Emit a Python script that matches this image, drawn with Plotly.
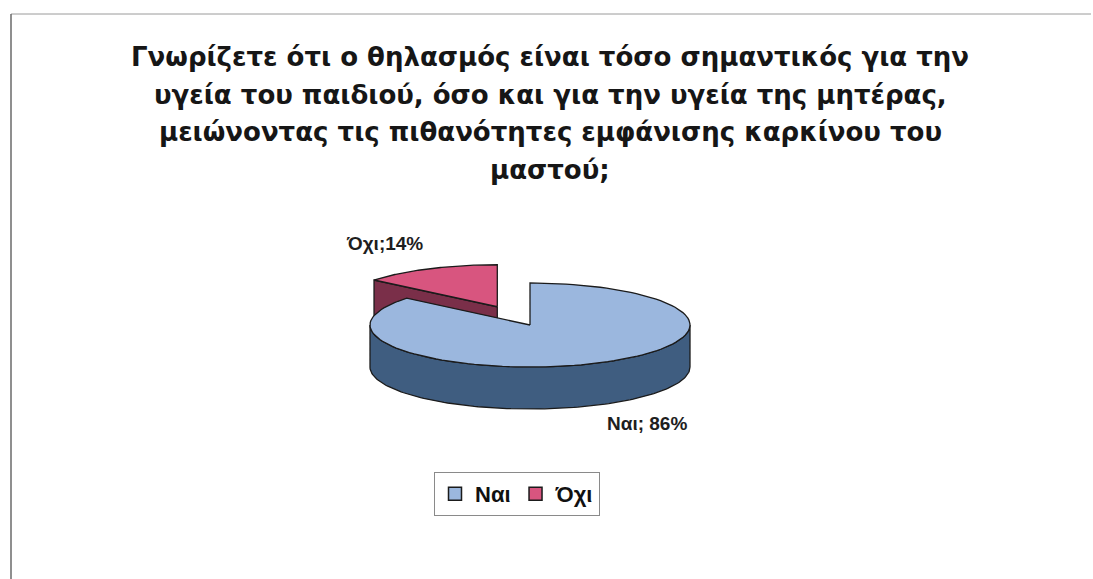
import numpy as np
import plotly.graph_objects as go

# Survey answers and their shares (%)
labels = ["Ναι", "Όχι"]
values = [86, 14]
top_colors = ["#9bb7de", "#d8557f"]
side_colors = ["#3f5d80", "#7a2f49"]
explode = [0.0, 0.48]

title_lines = [
    "Γνωρίζετε ότι ο θηλασμός είναι τόσο σημαντικός για την",
    "υγεία του παιδιού, όσο και για την υγεία της μητέρας,",
    "μειώνοντας τις πιθανότητες εμφάνισης καρκίνου του",
    "μαστού;",
]

W, H = 1093, 579
# pie geometry in page pixels (tilted 3-D look)
cx, cy, rx, ry, depth = 530, 325, 160, 42, 42
start_deg = 90.0
outline = "#1b1b1b"
label_font = dict(family="Liberation Sans Narrow, Arial Narrow, Liberation Sans", size=19, color="#1e1e1e")


def rim(t0, t1, ox, oy, dz=0.0, n=120):
    t = np.radians(np.linspace(t0, t1, n))
    return cx + ox + rx * np.cos(t), cy + oy - ry * np.sin(t) + dz


def wall(ang, ox, oy):
    t = np.radians(ang)
    ex_, ey_ = cx + ox + rx * np.cos(t), cy + oy - ry * np.sin(t)
    xs = [cx + ox, ex_, ex_, cx + ox, cx + ox]
    ys = [cy + oy, ey_, ey_ + depth, cy + oy + depth, cy + oy]
    return xs, ys


fig = go.Figure()

total = float(sum(values))
slices = []
a = start_deg
for lab, v, ex in zip(labels, values, explode):
    span = 360.0 * v / total
    a_end = a - span  # slices run clockwise
    mid = np.radians((a + a_end) / 2)
    ox, oy = rx * ex * np.cos(mid), -ry * ex * np.sin(mid)
    slices.append((lab, a, a_end, ox, oy))
    a = a_end

traces = []
for i, (lab, a0, a1, ox, oy) in enumerate(slices):
    style = dict(mode="lines", line=dict(color=outline, width=1.3), hoverinfo="skip", showlegend=False)
    # radial walls that face the viewer
    for edge, nrm in ((a0, a0 + 90), (a1, a1 - 90)):
        if np.sin(np.radians(nrm)) < -1e-6:
            xs, ys = wall(edge, ox, oy)
            traces.append((i, go.Scatter(x=xs, y=ys, fill="toself", fillcolor=side_colors[i], **style)))
    # outer wall on the front half
    lo, hi = min(a0, a1), max(a0, a1)
    for k in (-360, 0, 360):
        s0, s1 = max(lo, 180 + k), min(hi, 360 + k)
        if s1 > s0:
            tx, ty = rim(s0, s1, ox, oy)
            bx, by = rim(s1, s0, ox, oy, depth)
            xs = np.concatenate([tx, bx, tx[:1]])
            ys = np.concatenate([ty, by, ty[:1]])
            traces.append((i, go.Scatter(x=xs, y=ys, fill="toself", fillcolor=side_colors[i], **style)))
    # top face
    tx, ty = rim(a0, a1, ox, oy)
    xs = np.concatenate([[cx + ox], tx, [cx + ox]])
    ys = np.concatenate([[cy + oy], ty, [cy + oy]])
    traces.append((i, go.Scatter(x=xs, y=ys, fill="toself", fillcolor=top_colors[i], **style)))

# back slices first so the big slice overlaps them
for i in sorted(set(t[0] for t in traces), reverse=True):
    for j, tr in traces:
        if j == i:
            fig.add_trace(tr)

# legend entries: square swatches
for i, lab in enumerate(labels):
    fig.add_trace(go.Scatter(x=[None], y=[None], mode="markers", name=lab, legendrank=i + 1,
                             marker=dict(symbol="square", size=13, color=top_colors[i],
                                         line=dict(color=outline, width=1.5))))

# slice labels
fig.add_annotation(x=384, y=243, text=f"<b>{labels[1]};{values[1]}%</b>", showarrow=False, font=label_font)
fig.add_annotation(x=647, y=423, text=f"<b>{labels[0]}; {values[0]}%</b>", showarrow=False, font=label_font)

# title, one annotation per line
for k, line in enumerate(title_lines):
    fig.add_annotation(x=550, y=57 + 37.7 * k, text=f"<b>{line}</b>", showarrow=False,
                       font=dict(family="DejaVu Sans", size=26, color="#161616"))

# frame lines around the chart area
fig.add_shape(type="line", x0=11, x1=W - 2, y0=14, y1=14, line=dict(color="#9a9a9a", width=1))
fig.add_shape(type="line", x0=11, x1=11, y0=14, y1=H, line=dict(color="#6a6a6a", width=1.5))

fig.update_layout(
    width=W, height=H,
    margin=dict(l=0, r=0, t=0, b=0),
    paper_bgcolor="white", plot_bgcolor="white",
    xaxis=dict(range=[0, W], visible=False, fixedrange=True),
    yaxis=dict(range=[H, 0], visible=False, fixedrange=True),
    legend=dict(orientation="h", x=517 / W, y=1 - 494 / H, xanchor="center", yanchor="middle",
                bordercolor="#8a8a8a", borderwidth=1, bgcolor="white",
                font=dict(family="Liberation Sans Narrow, Liberation Sans", size=22, color="#111",
                          weight="bold"),
                itemwidth=30, traceorder="normal"),
    showlegend=True,
)

fig.write_html("out.html", config={"displayModeBar": False})
